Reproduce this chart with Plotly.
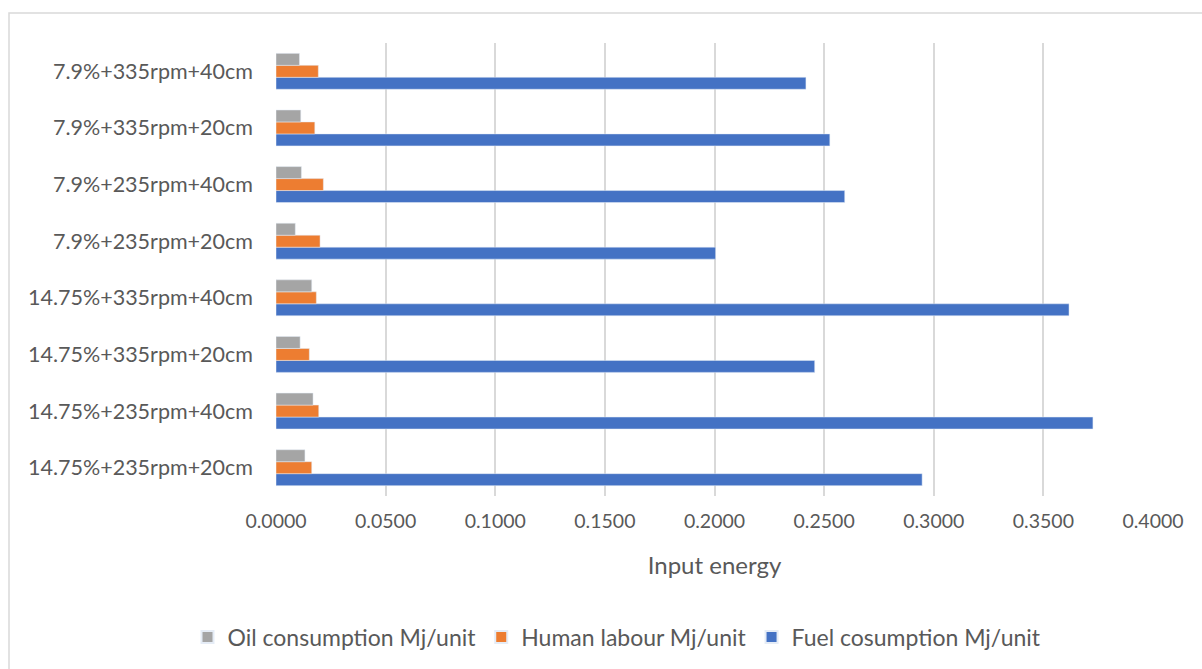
import plotly.graph_objects as go

# Treatment combinations, listed bottom to top as drawn on the category axis
categories = [
    "14.75%+235rpm+20cm",
    "14.75%+235rpm+40cm",
    "14.75%+335rpm+20cm",
    "14.75%+335rpm+40cm",
    "7.9%+235rpm+20cm",
    "7.9%+235rpm+40cm",
    "7.9%+335rpm+20cm",
    "7.9%+335rpm+40cm",
]

fuel_consumption = [0.2947, 0.3726, 0.2457, 0.3617, 0.2005, 0.2594, 0.2526, 0.2417]
human_labour = [0.0163, 0.0195, 0.0152, 0.0184, 0.0201, 0.0216, 0.0177, 0.0193]
oil_consumption = [0.0132, 0.0169, 0.0110, 0.0163, 0.0088, 0.0116, 0.0113, 0.0107]

tick_values = [0.0, 0.05, 0.10, 0.15, 0.20, 0.25, 0.30, 0.35, 0.40]
tick_labels = ["0.0000", "0.0500", "0.1000", "0.1500", "0.2000",
               "0.2500", "0.3000", "0.3500", "0.4000"]

FONT = "Lato, 'Open Sans', sans-serif"
TEXT = "#595959"
GRID = "#D9D9D9"

fig = go.Figure()
fig.add_trace(go.Bar(y=categories, x=fuel_consumption, orientation="h",
                     name="Fuel cosumption Mj/unit", marker_color="#4472C4"))
fig.add_trace(go.Bar(y=categories, x=human_labour, orientation="h",
                     name="Human labour Mj/unit", marker_color="#ED7D31"))
fig.add_trace(go.Bar(y=categories, x=oil_consumption, orientation="h",
                     name="Oil consumption Mj/unit", marker_color="#A5A5A5"))

W, H = 1202, 669
L, R, T, B = 276, 49, 43, 172
pw, ph = W - L - R, H - T - B


def px_x(px):
    return (px - L) / pw


def px_y(py):
    return (H - B - py) / ph


fig.update_layout(
    width=W, height=H,
    margin=dict(l=L, r=R, t=T, b=B),
    paper_bgcolor="white", plot_bgcolor="white",
    barmode="group", bargap=0.366, bargroupgap=0,
    font=dict(family=FONT, color=TEXT, size=18),
    showlegend=True,
    legend=dict(orientation="h", traceorder="reversed",
                x=px_x(617), xanchor="center", y=px_y(637), yanchor="middle",
                font=dict(size=23, color=TEXT), entrywidth=0,
                itemsizing="constant"),
    xaxis=dict(range=[0, 0.4], tickvals=tick_values, ticktext=tick_labels,
               showgrid=True, gridcolor=GRID, gridwidth=2,
               zeroline=False, showline=False, ticks="",
               ticklabelstandoff=11,
               tickfont=dict(size=19.5, color=TEXT),
               title=dict(text="Input energy", font=dict(size=24, color=TEXT),
                          standoff=26)),
    yaxis=dict(type="category", categoryorder="array", categoryarray=categories,
               showgrid=False, zeroline=False, showline=False, ticks="",
               ticklabelstandoff=22,
               tickfont=dict(size=21.5, color=TEXT)),
    shapes=[
        dict(type="rect", xref="paper", yref="paper",
             x0=px_x(9), x1=px_x(1230), y0=px_y(700), y1=px_y(13),
             line=dict(color=GRID, width=1.5), fillcolor="rgba(0,0,0,0)",
             layer="below"),
    ],
)

fig.write_html("out.html")
